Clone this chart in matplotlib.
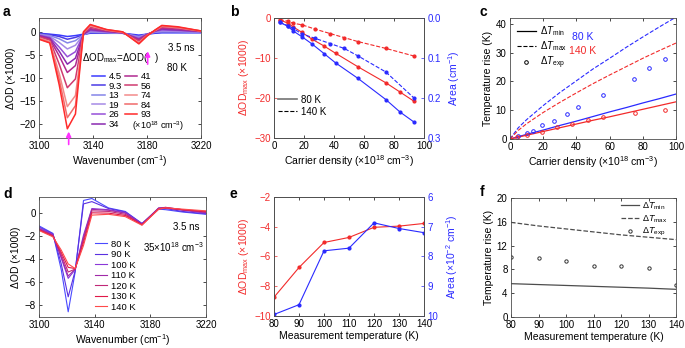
import matplotlib
matplotlib.use("Agg")
import matplotlib.pyplot as plt
from matplotlib.lines import Line2D

plt.rcParams['font.family'] = ['Liberation Sans', 'DejaVu Sans']
plt.rcParams['mathtext.fontset'] = 'custom'
plt.rcParams['mathtext.rm'] = 'Liberation Sans'
plt.rcParams['mathtext.it'] = 'Liberation Sans:italic'
plt.rcParams['mathtext.bf'] = 'Liberation Sans:bold'
plt.rcParams['font.size'] = 7
plt.rcParams['axes.linewidth'] = 0.6
plt.rcParams['axes.edgecolor'] = '0.3'
plt.rcParams['xtick.direction'] = 'in'
plt.rcParams['ytick.direction'] = 'in'
plt.rcParams['xtick.major.size'] = 2.5
plt.rcParams['ytick.major.size'] = 2.5
plt.rcParams['xtick.major.width'] = 0.5
plt.rcParams['ytick.major.width'] = 0.5
plt.rcParams['xtick.major.pad'] = 2.5
plt.rcParams['ytick.major.pad'] = 2.5

# ---------------- data ----------------
# (a) spectra at 80 K for several carrier densities
wn_a = [3100, 3108, 3115, 3121, 3127, 3133, 3138, 3150, 3162, 3174, 3180, 3186, 3191, 3203, 3220]
dens_a = ['4.5', '9.3', '13', '19', '26', '34', '41', '56', '74', '84', '93']
spec_a = [
    [-0.3, -0.5, -0.7, -1.0, -0.8, -0.5, -0.3, -0.3, -0.3, -0.7, -0.5, -0.3, -0.2, -0.2, -0.2],
    [-0.4, -0.6, -1.0, -1.6, -1.2, -0.6, -0.2, -0.3, -0.3, -0.9, -0.5, -0.2, -0.1, -0.1, -0.1],
    [-0.5, -0.8, -1.5, -2.4, -1.9, -0.6, -0.1, -0.2, -0.3, -1.0, -0.5, -0.1, 0.0, 0.0, -0.1],
    [-0.6, -1.0, -2.3, -3.7, -2.9, -0.6, 0.1, -0.1, -0.3, -1.2, -0.5, 0.0, 0.2, 0.1, 0.0],
    [-0.7, -1.2, -3.3, -5.4, -4.3, -0.5, 0.3, 0.0, -0.2, -1.4, -0.5, 0.1, 0.4, 0.3, 0.0],
    [-0.8, -1.4, -4.2, -7.0, -5.7, -0.5, 0.5, 0.1, -0.2, -1.6, -0.6, 0.2, 0.6, 0.4, 0.1],
    [-0.9, -1.6, -5.2, -8.8, -7.3, -0.4, 0.7, 0.2, -0.2, -1.7, -0.6, 0.2, 0.8, 0.6, 0.1],
    [-1.1, -1.8, -7.0, -12.1, -10.2, -0.3, 1.0, 0.3, -0.1, -2.0, -0.7, 0.3, 1.0, 0.8, 0.1],
    [-1.3, -2.1, -9.0, -16.2, -13.8, -0.1, 1.3, 0.4, -0.1, -2.3, -0.8, 0.3, 1.2, 0.9, 0.2],
    [-1.5, -2.3, -10.3, -18.6, -16.0, 0.0, 1.5, 0.5, 0.0, -2.5, -0.9, 0.4, 1.3, 1.0, 0.2],
    [-1.6, -2.4, -11.5, -21.0, -17.8, 0.0, 1.6, 0.5, 0.0, -2.6, -0.9, 0.4, 1.4, 1.1, 0.2],
]
colors_a = ['#3a3aff', '#4a3ae6', '#8585e8', '#a58ae6', '#9650d8', '#8a2ab0',
            '#b02a90', '#d03a70', '#f28a8a', '#f06a6a', '#ff2a2a']

# (b) peak amplitude and area vs carrier density
dens_80 = [4.0, 9.4, 12.7, 18.7, 25.4, 33.4, 41.0, 56.0, 74.6, 84.0, 93.3]
odmax_80 = [-0.5, -1.3, -2.2, -3.6, -5.3, -7.0, -8.8, -12.2, -16.2, -18.5, -20.8]
area_80 = [0.011, 0.021, 0.032, 0.047, 0.065, 0.089, 0.112, 0.151, 0.204, 0.235, 0.26]
dens_140 = [3.8, 9.4, 12.7, 18.7, 27.6, 37.6, 46.8, 56.1, 74.6, 93.3]
odmax_140 = [-0.4, -0.8, -1.3, -1.7, -2.8, -3.9, -4.9, -5.9, -7.6, -9.5]
area_140 = [0.011, 0.019, 0.026, 0.040, 0.051, 0.064, 0.076, 0.095, 0.135, 0.200]

# (c) temperature rise vs carrier density
dens_c = [0, 5, 10, 20, 30, 40, 50, 60, 70, 80, 90, 100]
tmax_80 = [0, 3.9, 6.7, 11.6, 16.1, 20.2, 24.3, 28.0, 31.8, 35.4, 38.9, 42.3]
tmax_140 = [0, 3.0, 5.3, 9.2, 12.7, 16.0, 19.2, 22.2, 25.1, 28.0, 30.7, 33.3]
tmin_80 = [0, 0.8, 1.6, 3.1, 4.7, 6.2, 7.8, 9.4, 10.9, 12.5, 14.0, 15.6]
tmin_140 = [0, 0.65, 1.3, 2.6, 3.9, 5.2, 6.5, 7.7, 9.0, 10.3, 11.6, 12.9]
texp_dens_80 = [5.0, 10.1, 13.7, 19.1, 26.8, 34.2, 41.2, 56.3, 75.0, 84.0, 93.5]
texp_80 = [1.2, 2.0, 2.9, 4.7, 6.3, 8.8, 11.1, 15.1, 20.9, 24.8, 27.7]
texp_dens_140 = [4.0, 10.0, 19.5, 28.2, 37.6, 47.3, 56.3, 75.4, 93.5]
texp_140 = [0.8, 1.4, 2.6, 4.0, 5.3, 6.7, 7.6, 9.0, 10.2]

# (d) spectra at 35e18 cm^-3 for several temperatures
wn_d = [3100, 3110, 3116, 3121, 3126, 3132, 3138, 3150, 3162, 3174, 3186, 3191, 3203, 3220]
temps_d = ['80 K', '90 K', '100 K', '110 K', '120 K', '130 K', '140 K']
spec_d = [
    [-1.1, -1.75, -4.9, -8.55, -5.1, 1.1, 1.27, 0.45, 0.15, -0.9, 0.35, 0.3, 0.1, -0.1],
    [-1.2, -1.8, -4.4, -7.25, -5.0, 0.8, 1.0, 0.4, 0.1, -0.9, 0.4, 0.4, 0.15, -0.05],
    [-1.3, -1.85, -3.9, -5.65, -4.9, -1.9, 0.4, 0.3, 0.05, -0.95, 0.45, 0.45, 0.25, 0.0],
    [-1.35, -1.9, -3.8, -5.45, -4.85, -2.1, 0.33, 0.25, 0.0, -0.95, 0.45, 0.5, 0.3, 0.05],
    [-1.4, -1.95, -3.6, -5.1, -4.85, -2.3, 0.2, 0.15, -0.1, -1.0, 0.4, 0.5, 0.3, 0.1],
    [-1.45, -2.0, -3.4, -4.7, -4.8, -2.55, 0.03, 0.0, -0.2, -1.0, 0.35, 0.45, 0.3, 0.15],
    [-1.5, -2.05, -3.2, -4.4, -4.8, -2.8, -0.17, -0.1, -0.3, -1.05, 0.35, 0.46, 0.35, 0.2],
]
colors_d = ['#4a4aff', '#5a30e0', '#8a38d8', '#a02aa8', '#c02878', '#e01848', '#ff4a4a']

# (e) peak amplitude and area vs temperature
temp_e = [80, 90, 100, 110, 120, 130, 140]
odmax_e = [-8.74, -6.74, -5.06, -4.72, -4.04, -3.96, -3.78]
area_e = [9.95, 9.62, 7.81, 7.72, 6.87, 7.06, 7.2]

# (f) temperature rise vs temperature
temp_f = [80, 90, 100, 110, 120, 130, 140]
tmax_f = [15.9, 15.3, 14.8, 14.3, 13.8, 13.4, 13.0]
tmin_f = [5.6, 5.45, 5.3, 5.15, 5.0, 4.85, 4.65]
texp_f = [10.1, 9.97, 9.47, 8.57, 8.57, 8.29, 5.3]

RED = '#f22a2a'
BLUE = '#2a2aff'

fig = plt.figure(figsize=(6.85, 3.48), dpi=100)

def box(ax):
    ax.tick_params(top=True, right=True)

# ---------------- a ----------------
ax = fig.add_axes([0.0569, 0.6034, 0.2365, 0.3448])
box(ax)
for lab, ys, c in zip(dens_a, spec_a, colors_a):
    ax.plot(wn_a, ys, color=c, lw=1.1, label=lab)
ax.set_xlim(3100, 3220)
ax.set_ylim(-23, 3)
ax.set_xticks([3100, 3140, 3180, 3220])
ax.set_yticks([-20, -15, -10, -5, 0])
ax.set_xlabel('Wavenumber (cm$^{-1}$)', fontsize=7.5, labelpad=1)
ax.set_ylabel('ΔOD (×1000)', fontsize=7.5, labelpad=2)
leg = ax.legend(ncol=2, loc='upper left', bbox_to_anchor=(0.33, 0.55), frameon=False,
                fontsize=6.8, handlelength=1.3, handletextpad=0.4, columnspacing=0.3,
                labelspacing=0.06, borderpad=0, borderaxespad=0)
ax.text(3169, -20.4, '(×10$^{18}$ cm$^{-3}$)', fontsize=6.5, va='center')
ax.text(3132, -5.6, 'ΔOD$_{\\rm max}$=ΔOD(   )', fontsize=7, va='center')
ax.text(3215, -3.4, '3.5 ns', fontsize=7, ha='right', va='center')
ax.text(3210, -7.8, '80 K', fontsize=7, ha='right', va='center')
ax.annotate('', xy=(3180.5, -3.6), xytext=(3180.5, -7.6),
            arrowprops=dict(arrowstyle='-|>', color='#ff30ff', lw=1.2, mutation_scale=7))
ax.annotate('', xy=(3122, -21.0), xytext=(3122, -25.0), annotation_clip=False,
            arrowprops=dict(arrowstyle='-|>', color='#ff30ff', lw=1.2, mutation_scale=7))

# ---------------- b ----------------
ax = fig.add_axes([0.4, 0.6034, 0.219, 0.3448])
ax.tick_params(top=True, right=False)
ax.plot(dens_80, odmax_80, '-o', color=RED, lw=0.8, ms=2)
ax.plot(dens_140, odmax_140, '--o', color=RED, lw=0.8, ms=2)
ax.set_xlim(0, 100)
ax.set_ylim(-30, 0)
ax.set_yticks([-30, -20, -10, 0])
ax.tick_params(axis='y', colors=RED)
ax.set_xlabel('Carrier density (×10$^{18}$ cm$^{-3}$)', fontsize=7.5, labelpad=1)
ax.set_ylabel('ΔOD$_{\\rm max}$ (×1000)', fontsize=7.5, color=RED, labelpad=2)
ax.legend(handles=[Line2D([], [], color='0.45', lw=1.2),
                   Line2D([], [], color='k', lw=0.8, ls='--')],
          labels=['80 K', '140 K'], loc='upper left', bbox_to_anchor=(0.025, 0.36),
          frameon=False, fontsize=7, handlelength=2.0, handletextpad=0.4,
          labelspacing=0.2, borderpad=0, borderaxespad=0)
ax2 = ax.twinx()
ax2.plot(dens_80, area_80, '-o', color=BLUE, lw=0.8, ms=2)
ax2.plot(dens_140, area_140, '--o', color=BLUE, lw=0.8, ms=2)
ax2.set_ylim(0.3, 0)
ax2.set_yticks([0, 0.1, 0.2, 0.3])
ax2.tick_params(axis='y', colors=BLUE)
ax2.set_ylabel('Area (cm$^{-1}$)', fontsize=7.5, color=BLUE, labelpad=4)

# ---------------- c ----------------
ax = fig.add_axes([0.7445, 0.6006, 0.2423, 0.3477])
box(ax)
ax.plot(dens_c, tmax_80, '--', color=BLUE, lw=0.8)
ax.plot(dens_c, tmax_140, '--', color=RED, lw=0.8)
ax.plot(dens_c, tmin_80, '-', color=BLUE, lw=0.9)
ax.plot(dens_c, tmin_140, '-', color=RED, lw=0.9)
ax.plot(texp_dens_80, texp_80, 'o', mfc='none', mec=BLUE, ms=2.6, mew=0.7)
ax.plot(texp_dens_140, texp_140, 'o', mfc='none', mec=RED, ms=2.6, mew=0.7)
ax.set_xlim(0, 100)
ax.set_ylim(0, 42)
ax.set_yticks([0, 10, 20, 30, 40])
ax.set_xlabel('Carrier density (×10$^{18}$ cm$^{-3}$)', fontsize=7.5, labelpad=1)
ax.set_ylabel('Temperature rise (K)', fontsize=7.5, labelpad=2)
ax.legend(handles=[Line2D([], [], color='k', lw=0.9),
                   Line2D([], [], color='k', lw=0.8, ls='--'),
                   Line2D([], [], color='k', ls='none', marker='o', mfc='none', ms=2.6, mew=0.7)],
          labels=['Δ$T_{\\rm min}$', 'Δ$T_{\\rm max}$', 'Δ$T_{\\rm exp}$'],
          loc='upper left', bbox_to_anchor=(0.04, 0.95), frameon=False, fontsize=7,
          handlelength=2.0, handletextpad=0.4, labelspacing=0.15, borderpad=0, borderaxespad=0)
ax.text(44, 35.5, '80 K', color=BLUE, fontsize=7.5, ha='center', va='center')
ax.text(43.5, 30.5, '140 K', color=RED, fontsize=7.5, ha='center', va='center')

# ---------------- d ----------------
ax = fig.add_axes([0.0569, 0.0891, 0.2438, 0.3448])
box(ax)
for lab, ys, c in zip(temps_d, spec_d, colors_d):
    ax.plot(wn_d, ys, color=c, lw=0.8, label=lab)
ax.set_xlim(3100, 3220)
ax.set_ylim(-9.0, 1.4)
ax.set_xticks([3100, 3140, 3180, 3220])
ax.set_yticks([-8, -6, -4, -2, 0])
ax.set_xlabel('Wavenumber (cm$^{-1}$)', fontsize=7.5, labelpad=1)
ax.set_ylabel('ΔOD (×1000)', fontsize=7.5, labelpad=2)
ax.legend(loc='upper left', bbox_to_anchor=(0.335, 0.645), frameon=False, fontsize=6.8,
          handlelength=1.3, handletextpad=0.4, labelspacing=0.16, borderpad=0,
          borderaxespad=0)
ax.text(3215, -1.2, '3.5 ns', fontsize=7, ha='right', va='center')
ax.text(3218, -2.9, '35×10$^{18}$ cm$^{-3}$', fontsize=7, ha='right', va='center')

# ---------------- e ----------------
ax = fig.add_axes([0.4, 0.092, 0.219, 0.342])
ax.tick_params(top=True, right=False)
ax.plot(temp_e, odmax_e, '-o', color=RED, lw=0.8, ms=2)
ax.set_xlim(80, 140)
ax.set_ylim(-10, -2)
ax.set_xticks([80, 90, 100, 110, 120, 130, 140])
ax.set_yticks([-10, -8, -6, -4, -2])
ax.tick_params(axis='y', colors=RED)
ax.set_xlabel('Measurement temperature (K)', fontsize=7.5, labelpad=1)
ax.set_ylabel('ΔOD$_{\\rm max}$ (×1000)', fontsize=7.5, color=RED, labelpad=2)
ax2 = ax.twinx()
ax2.plot(temp_e, area_e, '-o', color=BLUE, lw=0.8, ms=2)
ax2.set_ylim(10, 6)
ax2.set_yticks([6, 7, 8, 9, 10])
ax2.tick_params(axis='y', colors=BLUE)
ax2.set_ylabel('Area (×10$^{-2}$ cm$^{-1}$)', fontsize=7.5, color=BLUE, labelpad=4)

# ---------------- f ----------------
ax = fig.add_axes([0.746, 0.0891, 0.2409, 0.342])
box(ax)
ax.plot(temp_f, tmin_f, '-', color='0.3', lw=0.9)
ax.plot(temp_f, tmax_f, '--', color='0.3', lw=0.9)
ax.plot(temp_f, texp_f, 'o', mfc='none', mec='0.2', ms=2.4, mew=0.7)
ax.set_xlim(80, 140)
ax.set_ylim(0, 20)
ax.set_xticks([80, 90, 100, 110, 120, 130, 140])
ax.set_yticks([0, 4, 8, 12, 16, 20])
ax.set_xlabel('Measurement temperature (K)', fontsize=7.5, labelpad=1)
ax.set_ylabel('Temperature rise (K)', fontsize=7.5, labelpad=2)
ax.legend(handles=[Line2D([], [], color='0.3', lw=0.9),
                   Line2D([], [], color='0.3', lw=0.9, ls='--'),
                   Line2D([], [], color='0.2', ls='none', marker='o', mfc='none', ms=2.4, mew=0.7)],
          labels=['Δ$T_{\\rm min}$', 'Δ$T_{\\rm max}$', 'Δ$T_{\\rm exp}$'],
          loc='upper right', bbox_to_anchor=(0.95, 0.98), frameon=False, fontsize=6.5,
          handlelength=2.0, handletextpad=0.4, labelspacing=0.15, borderpad=0, borderaxespad=0)

# panel letters
for x, y, s in [(3, 12, 'a'), (230, 12, 'b'), (480, 12, 'c'),
                (3, 194, 'd'), (230, 194, 'e'), (480, 192, 'f')]:
    fig.text(x / 685, 1 - y / 348, s, fontsize=10, fontweight='bold', va='center')

fig.savefig('out.png', dpi=100)
